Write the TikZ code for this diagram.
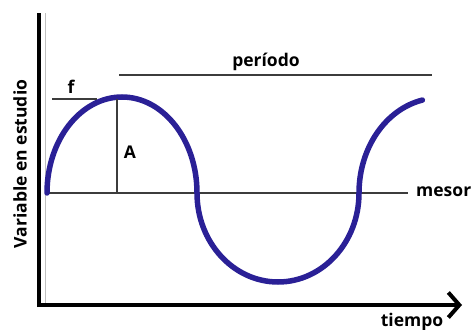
\documentclass[tikz,border=0pt]{standalone}
\usepackage{fontspec}
\setmainfont{Open Sans}
\usetikzlibrary{arrows.meta}

\definecolor{waveblue}{RGB}{42,32,150}
\definecolor{guidegray}{RGB}{60,60,60}

\begin{document}
\begin{tikzpicture}[
    x=1pt, y=1pt,
    every node/.style={font=\bfseries\fontsize{17.5}{19}\selectfont, inner sep=0pt},
    axis/.style={line width=4pt, black},
    guide/.style={line width=2.2pt, guidegray},
    wave/.style={line width=5.5pt, waveblue, line cap=round},
    arrow/.style={-{Straight Barb[length=11pt, width=25pt]}}
]
\useasboundingbox (0,0) rectangle (473,329);

% axes
\draw[line width=1pt, black!25] (45,24) -- (45,316);
\draw[axis] (39,22) -- (39,316);
\draw[axis, arrow] (37,24) -- (462,24);
\node[rotate=90] (yvar) at (20,165) {Variable en estudio};
\node[anchor=base] (xvar) at (412,3) {tiempo};

% mesor
\coordinate (m0) at (45,136);
\coordinate (m1) at (408,136);
\draw[guide] (m0) -- (m1);
\node[anchor=west] (mesor) at (416,137) {mesor};

% wave
\draw[wave] (47,136) arc[start angle=180, end angle=0, x radius=75, y radius=96]
    arc[start angle=180, end angle=360, x radius=81, y radius=89]
    arc[start angle=180, end angle=102, x radius=80, y radius=95];

% amplitude
\coordinate (peak) at (117,230);
\coordinate (base) at (117,136);
\draw[guide] (base) -- (peak);
\node (amp) at (130,177) {A};

% phase
\coordinate (f0) at (52,230);
\coordinate (f1) at (97,230);
\draw[guide] (f0) -- (f1);
\node (phase) at (71,242) {f};

% period
\coordinate (p0) at (119,254);
\coordinate (p1) at (432,254);
\draw[guide] (p0) -- (p1);
\node (period) at (266,267) {período};

\end{tikzpicture}
\end{document}
